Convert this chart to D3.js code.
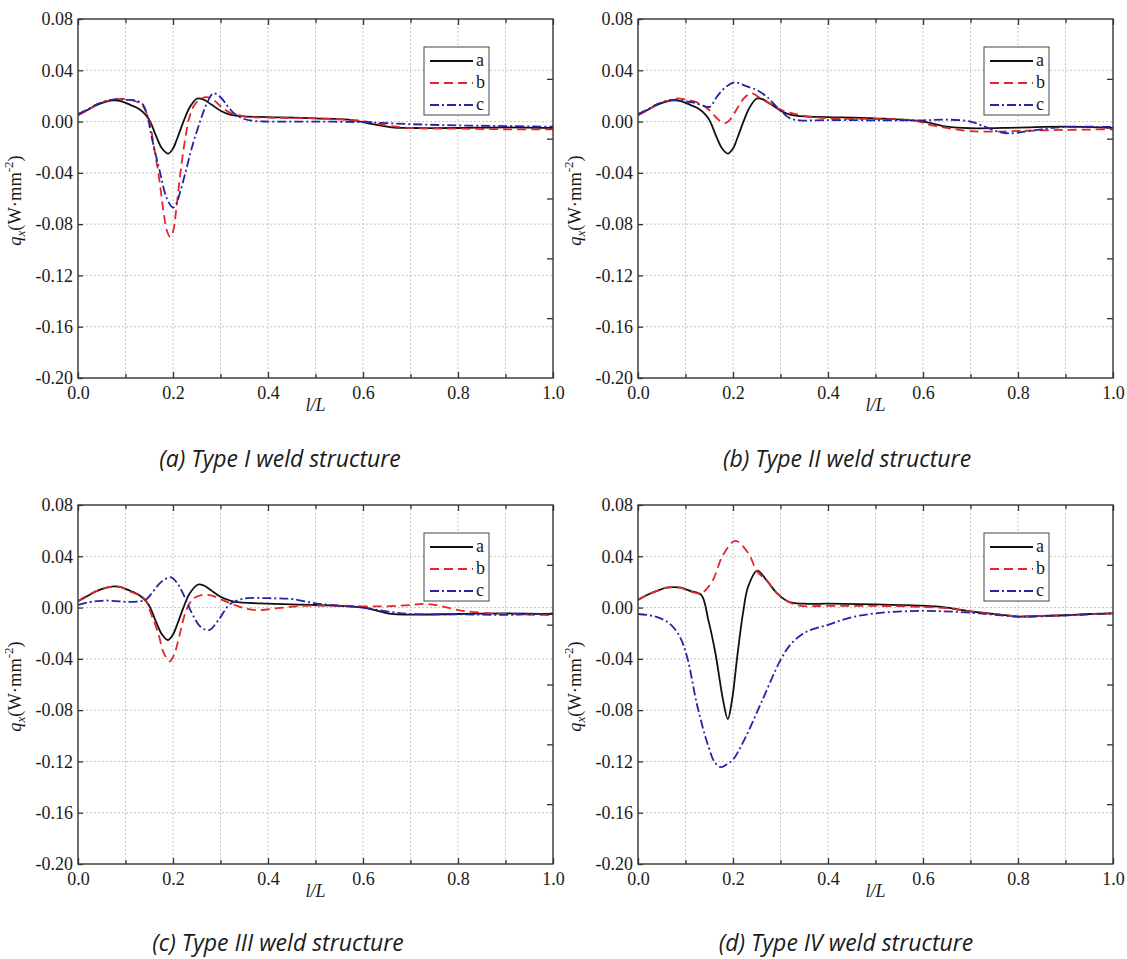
<!DOCTYPE html>
<html>
<head>
<meta charset="utf-8">
<script src="https://cdn.jsdelivr.net/npm/d3@7"></script>
<style>
  body { margin: 0; background: #fff; }
  svg text { font-family: "Liberation Serif", "Times New Roman", Times, serif; }
  svg text.caption { font-family: "Open Sans", "Noto Sans", sans-serif; font-style: italic; }
</style>
</head>
<body>
<svg id="chart" width="1127" height="959"></svg>
<script>
// ---- axis ticks and labels ----
const xTickValues = [0, 0.2, 0.4, 0.6, 0.8, 1.0];
const xTickLabels = ["0.0", "0.2", "0.4", "0.6", "0.8", "1.0"];
const xMinorValues = [0.1, 0.3, 0.5, 0.7, 0.9];
const yTickValues = [0.08, 0.04, 0, -0.04, -0.08, -0.12, -0.16, -0.20];
const yTickLabels = ["0.08", "0.04", "0.00", "-0.04", "-0.08", "-0.12", "-0.16", "-0.20"];
const rightTickValues = [1, 2, 3, 4, 5];   // right frame divided in six parts
const seriesNames = ["a", "b", "c"];
const captions = [
  "(a) Type I weld structure",
  "(b) Type II weld structure",
  "(c) Type III weld structure",
  "(d) Type IV weld structure"
];

// ---- heat flux q_x along l/L : [l/L, q_x] ----
const typeI_a = [[0,0.005],[0.02,0.009],[0.04,0.013],[0.06,0.0155],[0.075,0.0165],[0.09,0.016],[0.11,0.013],[0.13,0.0095],[0.143,0.005],[0.152,0.0],[0.165,-0.0118],[0.177,-0.021],[0.19,-0.025],[0.2,-0.021],[0.21,-0.012],[0.222,0.0],[0.235,0.011],[0.25,0.0178],[0.262,0.0175],[0.28,0.0135],[0.3,0.0085],[0.32,0.0055],[0.35,0.004],[0.4,0.0035],[0.5,0.0025],[0.58,0.001],[0.62,-0.002],[0.66,-0.0045],[0.7,-0.005],[0.8,-0.005],[0.9,-0.0045],[1.0,-0.005]];
const typeI_b = [[0,0.005],[0.02,0.009],[0.04,0.0135],[0.06,0.016],[0.08,0.0175],[0.1,0.0175],[0.12,0.016],[0.135,0.013],[0.145,0.006],[0.152,-0.002],[0.16,-0.02],[0.17,-0.042],[0.18,-0.07],[0.187,-0.085],[0.194,-0.09],[0.2,-0.086],[0.207,-0.068],[0.215,-0.042],[0.225,-0.015],[0.235,0.004],[0.245,0.013],[0.26,0.018],[0.272,0.019],[0.285,0.017],[0.3,0.012],[0.32,0.007],[0.35,0.004],[0.4,0.003],[0.5,0.0025],[0.6,0.0005],[0.65,-0.003],[0.7,-0.005],[0.8,-0.0055],[0.9,-0.006],[1.0,-0.006]];
const typeI_c = [[0,0.006],[0.02,0.0095],[0.04,0.0135],[0.06,0.016],[0.08,0.0175],[0.1,0.017],[0.12,0.0165],[0.135,0.014],[0.145,0.006],[0.155,-0.012],[0.173,-0.04],[0.187,-0.06],[0.2,-0.067],[0.207,-0.064],[0.215,-0.055],[0.226,-0.04],[0.24,-0.02],[0.257,0.0],[0.27,0.013],[0.285,0.022],[0.3,0.019],[0.315,0.012],[0.33,0.006],[0.35,0.002],[0.37,0.0005],[0.4,0.0],[0.5,0.0],[0.6,-0.0005],[0.7,-0.002],[0.8,-0.003],[0.9,-0.0035],[1.0,-0.004]];

const typeII_a = [[0,0.005],[0.02,0.009],[0.04,0.013],[0.06,0.0155],[0.075,0.0165],[0.09,0.016],[0.11,0.013],[0.13,0.0095],[0.143,0.005],[0.152,0.0],[0.165,-0.0118],[0.177,-0.021],[0.189,-0.025],[0.2,-0.021],[0.21,-0.012],[0.222,0.0],[0.235,0.011],[0.25,0.018],[0.262,0.0175],[0.28,0.0135],[0.3,0.0085],[0.32,0.0055],[0.35,0.004],[0.4,0.0035],[0.5,0.0025],[0.6,0.0],[0.65,-0.004],[0.7,-0.0052],[0.8,-0.0047],[0.9,-0.004],[1.0,-0.005]];
const typeII_b = [[0,0.005],[0.02,0.009],[0.04,0.0135],[0.06,0.016],[0.08,0.018],[0.1,0.0172],[0.12,0.0155],[0.135,0.013],[0.15,0.009],[0.165,0.003],[0.175,0.0],[0.185,-0.001],[0.195,0.002],[0.211,0.0116],[0.225,0.019],[0.24,0.022],[0.258,0.018],[0.28,0.0135],[0.3,0.0093],[0.32,0.007],[0.35,0.0045],[0.4,0.0025],[0.5,0.002],[0.58,0.001],[0.62,-0.003],[0.66,-0.0055],[0.7,-0.0075],[0.75,-0.0078],[0.8,-0.0073],[0.9,-0.0065],[1.0,-0.006]];
const typeII_c = [[0,0.006],[0.02,0.0095],[0.04,0.0135],[0.06,0.016],[0.08,0.017],[0.1,0.0158],[0.12,0.0145],[0.14,0.012],[0.152,0.0116],[0.166,0.0194],[0.185,0.027],[0.204,0.0306],[0.225,0.028],[0.25,0.0246],[0.271,0.0194],[0.3,0.0085],[0.32,0.0025],[0.34,0.001],[0.4,0.0012],[0.5,0.001],[0.6,0.001],[0.65,0.0015],[0.7,0.0],[0.73,-0.004],[0.755,-0.0075],[0.78,-0.0092],[0.82,-0.0075],[0.86,-0.0055],[0.9,-0.0042],[1.0,-0.0042]];

const typeIII_a = [[0,0.005],[0.02,0.009],[0.04,0.013],[0.06,0.0155],[0.075,0.0165],[0.09,0.016],[0.11,0.013],[0.13,0.0095],[0.143,0.005],[0.152,0.0],[0.165,-0.0118],[0.177,-0.021],[0.189,-0.0253],[0.2,-0.021],[0.21,-0.012],[0.222,0.0],[0.235,0.011],[0.253,0.018],[0.265,0.0172],[0.28,0.0135],[0.3,0.0085],[0.32,0.0055],[0.33,0.0045],[0.4,0.003],[0.5,0.002],[0.6,0.0],[0.66,-0.005],[0.7,-0.0055],[0.8,-0.005],[0.9,-0.0045],[1.0,-0.005]];
const typeIII_b = [[0,0.005],[0.02,0.0095],[0.04,0.013],[0.06,0.0155],[0.075,0.0165],[0.09,0.016],[0.11,0.0125],[0.13,0.0095],[0.142,0.006],[0.155,-0.006],[0.169,-0.02],[0.18,-0.035],[0.193,-0.042],[0.203,-0.036],[0.213,-0.0227],[0.228,-0.002],[0.243,0.007],[0.258,0.0096],[0.28,0.0096],[0.303,0.006],[0.33,0.002],[0.35,-0.0005],[0.38,-0.002],[0.42,-0.0005],[0.46,0.001],[0.5,0.0015],[0.55,0.0015],[0.6,0.001],[0.65,0.001],[0.7,0.002],[0.73,0.0029],[0.76,0.0015],[0.8,-0.002],[0.85,-0.004],[0.9,-0.005],[1.0,-0.006]];
const typeIII_c = [[0,0.002],[0.02,0.004],[0.04,0.005],[0.06,0.0055],[0.08,0.005],[0.1,0.0045],[0.124,0.0047],[0.142,0.006],[0.155,0.011],[0.169,0.0177],[0.183,0.0222],[0.196,0.0236],[0.208,0.0195],[0.221,0.011],[0.24,-0.0045],[0.258,-0.0150],[0.276,-0.0175],[0.296,-0.0096],[0.318,0.0021],[0.335,0.0055],[0.356,0.0073],[0.4,0.0073],[0.45,0.0067],[0.5,0.0033],[0.55,0.0015],[0.6,0.0],[0.65,-0.003],[0.7,-0.005],[0.8,-0.0052],[0.9,-0.0057],[1.0,-0.0045]];

const typeIV_a = [[0,0.006],[0.02,0.01],[0.04,0.013],[0.06,0.0155],[0.075,0.016],[0.09,0.0155],[0.11,0.013],[0.133,0.0099],[0.148,-0.0096],[0.163,-0.0356],[0.179,-0.072],[0.189,-0.087],[0.198,-0.072],[0.209,-0.038],[0.221,-0.0044],[0.232,0.0164],[0.251,0.0288],[0.27,0.0216],[0.293,0.011],[0.316,0.0047],[0.35,0.003],[0.4,0.003],[0.5,0.0025],[0.6,0.0015],[0.65,0.0],[0.7,-0.003],[0.75,-0.005],[0.8,-0.007],[0.85,-0.0065],[0.9,-0.006],[0.95,-0.005],[1.0,-0.0045]];
const typeIV_b = [[0,0.006],[0.02,0.01],[0.04,0.013],[0.06,0.0155],[0.075,0.016],[0.09,0.0155],[0.11,0.0125],[0.133,0.0112],[0.156,0.0203],[0.179,0.041],[0.205,0.052],[0.232,0.0425],[0.251,0.028],[0.27,0.0216],[0.293,0.011],[0.316,0.0047],[0.34,0.0015],[0.4,0.0013],[0.5,0.0013],[0.6,0.0005],[0.65,-0.0005],[0.7,-0.003],[0.75,-0.005],[0.8,-0.0068],[0.85,-0.0065],[0.9,-0.006],[0.95,-0.005],[1.0,-0.0045]];
const typeIV_c = [[0,-0.005],[0.034,-0.0068],[0.065,-0.012],[0.087,-0.022],[0.103,-0.038],[0.125,-0.077],[0.148,-0.108],[0.162,-0.121],[0.175,-0.1245],[0.188,-0.122],[0.2,-0.1186],[0.224,-0.103],[0.262,-0.072],[0.3,-0.041],[0.323,-0.028],[0.354,-0.019],[0.4,-0.0135],[0.445,-0.008],[0.5,-0.0045],[0.6,-0.0026],[0.7,-0.004],[0.8,-0.007],[0.9,-0.006],[1.0,-0.0045]];

// ---- drawing ----
const SERIF = "'Liberation Serif', 'Times New Roman', Times, serif";
const svg = d3.select("#chart");
const W = 475, H = 359;

const panels = [
  { left: 78,  top: 19,  series: [typeI_a, typeI_b, typeI_c],       caption: captions[0], cx: 280, cy: 467 },
  { left: 638, top: 19,  series: [typeII_a, typeII_b, typeII_c],    caption: captions[1], cx: 847, cy: 467 },
  { left: 78,  top: 505, series: [typeIII_a, typeIII_b, typeIII_c], caption: captions[2], cx: 278, cy: 951 },
  { left: 638, top: 505, series: [typeIV_a, typeIV_b, typeIV_c],    caption: captions[3], cx: 846, cy: 951 }
];

const styles = [
  { color: "#111111", dash: null },
  { color: "#e3262c", dash: "9,5" },
  { color: "#2424a6", dash: "9,3,2,3" }
];

const x = d3.scaleLinear().domain([0, 1]).range([0, W]);
const y = d3.scaleLinear().domain([-0.20, 0.08]).range([H, 0]);
const yRight = d3.scaleLinear().domain([0, 6]).range([0, H]);

const line = d3.line()
  .x(d => x(d[0]))
  .y(d => y(d[1]))
  .curve(d3.curveCatmullRom.alpha(0.5));

panels.forEach((p, pi) => {
  const g = svg.append("g").attr("transform", `translate(${p.left},${p.top})`);

  // dotted grid
  const gridX = xMinorValues.concat(xTickValues.slice(1, -1));
  g.append("g").selectAll("line").data(gridX).join("line")
    .attr("x1", d => x(d)).attr("x2", d => x(d))
    .attr("y1", 0).attr("y2", H)
    .attr("stroke", "#c4c4c4").attr("stroke-width", 1).attr("stroke-dasharray", "2,2");
  g.append("g").selectAll("line").data(yTickValues.slice(1, -1)).join("line")
    .attr("x1", 0).attr("x2", W)
    .attr("y1", d => y(d)).attr("y2", d => y(d))
    .attr("stroke", "#c4c4c4").attr("stroke-width", 1).attr("stroke-dasharray", "2,2");

  // curves
  const clipId = "clip" + pi;
  g.append("clipPath").attr("id", clipId).append("rect").attr("width", W).attr("height", H);
  const curves = g.append("g").attr("clip-path", `url(#${clipId})`);
  p.series.forEach((s, si) => {
    curves.append("path")
      .attr("d", line(s))
      .attr("fill", "none")
      .attr("stroke", styles[si].color)
      .attr("stroke-width", 1.8)
      .attr("stroke-dasharray", styles[si].dash);
  });

  // axes (ticks point inward)
  g.append("g").attr("transform", `translate(0,${H})`)
    .call(d3.axisBottom(x).tickValues(xTickValues).tickSizeInner(-6).tickSizeOuter(0)
      .tickPadding(8).tickFormat((d, i) => xTickLabels[i]));
  g.append("g").attr("transform", `translate(0,${H})`)
    .call(d3.axisBottom(x).tickValues(xMinorValues).tickSizeInner(-4).tickSizeOuter(0).tickFormat(""));
  g.append("g")
    .call(d3.axisTop(x).tickValues(xTickValues).tickSizeInner(-6).tickSizeOuter(0).tickFormat(""));
  g.append("g")
    .call(d3.axisTop(x).tickValues(xMinorValues).tickSizeInner(-4).tickSizeOuter(0).tickFormat(""));
  g.append("g")
    .call(d3.axisLeft(y).tickValues(yTickValues).tickSizeInner(-5).tickSizeOuter(0)
      .tickPadding(5).tickFormat((d, i) => yTickLabels[i]));
  g.append("g").attr("transform", `translate(${W},0)`)
    .call(d3.axisRight(yRight).tickValues(rightTickValues).tickSizeInner(-6).tickSizeOuter(0).tickFormat(""));

  g.selectAll(".domain").remove();
  g.selectAll("g").attr("font-family", null);
  g.selectAll(".tick line").attr("stroke", "#333").attr("stroke-width", 1.3);
  g.selectAll(".tick text").attr("fill", "#1a1a1a")
    .style("font-family", SERIF).style("font-size", "18px");

  // frame
  g.append("rect").attr("width", W).attr("height", H)
    .attr("fill", "none").attr("stroke", "#333").attr("stroke-width", 1.4);

  // axis titles
  g.append("text")
    .attr("x", W / 2).attr("y", H + 33)
    .attr("text-anchor", "middle").attr("fill", "#1a1a1a")
    .style("font-family", SERIF).style("font-size", "18px").style("font-style", "italic")
    .text("l/L");

  const yt = g.append("text")
    .attr("transform", `translate(${-57},${H / 2 + 2}) rotate(-90)`)
    .attr("text-anchor", "middle").attr("fill", "#1a1a1a")
    .style("font-family", SERIF).style("font-size", "18.5px");
  yt.append("tspan").style("font-style", "italic").text("q");
  yt.append("tspan").style("font-style", "italic").style("font-size", "13px").attr("dy", 4).text("x");
  yt.append("tspan").attr("dy", -4).text("(W·mm");
  yt.append("tspan").style("font-size", "13px").attr("dy", -8).text("-2");
  yt.append("tspan").attr("dy", 8).text(")");

  // legend
  const lg = g.append("g").attr("transform", "translate(346,28)");
  lg.append("rect").attr("width", 65).attr("height", 68)
    .attr("fill", "#fff").attr("stroke", "#444").attr("stroke-width", 1);
  seriesNames.forEach((name, i) => {
    const ly = 14 + i * 22;
    lg.append("line").attr("x1", 6).attr("x2", 49).attr("y1", ly).attr("y2", ly)
      .attr("stroke", styles[i].color).attr("stroke-width", 1.8)
      .attr("stroke-dasharray", styles[i].dash);
    lg.append("text").attr("x", 52).attr("y", ly + 5).attr("fill", "#1a1a1a")
      .style("font-family", SERIF).style("font-size", "18px").text(name);
  });

  // caption
  svg.append("text").attr("class", "caption")
    .attr("x", p.cx).attr("y", p.cy)
    .attr("text-anchor", "middle").attr("fill", "#1a1a1a")
    .style("font-size", "23px")
    .text(p.caption);
});
</script>
</body>
</html>
